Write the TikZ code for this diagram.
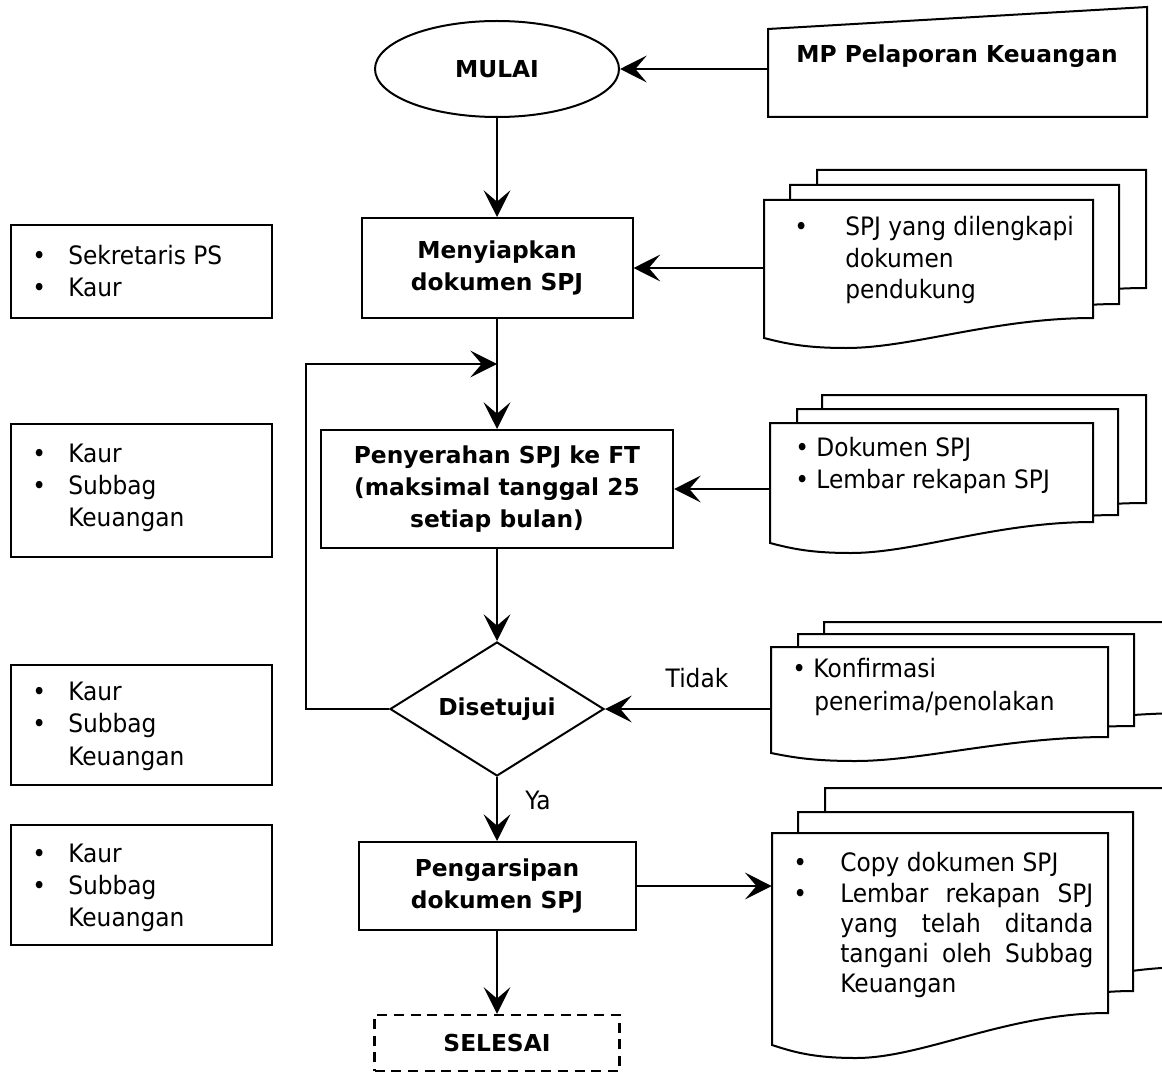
\documentclass[tikz,border=0pt]{standalone}
\usepackage{fontspec}
\setmainfont{DejaVu Sans}
\newfontfamily\regfont{DejaVu Sans}[FakeStretch=0.92]
\usetikzlibrary{arrows.meta,shapes.geometric}
% document sheet: L T R Br Bl m
\newcommand\docsheet[6]{%
  \path[docsh] (#1,#2) -- (#3,#2) -- (#3,#4)
    .. controls ({#3-0.3*(#3-#1)},#4) and ({#1+0.45*(#3-#1)},{#5+#6}) .. ({#1+0.25*(#3-#1)},{#5+#6})
    .. controls ({#1+0.12*(#3-#1)},{#5+#6}) and ({#1+0.06*(#3-#1)},{#5+0.5*#6}) .. (#1,#5) -- cycle;}
\begin{document}
\begin{tikzpicture}[x=0.75pt,y=-0.75pt,
  font=\fontsize{17.5}{24}\selectfont,
  conn/.style={line width=1.7pt},
  arr/.style={conn,-{Stealth[length=20pt,width=20pt,inset=8.5pt]}},
  mainbox/.style={draw,line width=1.5pt,rectangle,inner sep=0pt,align=center,font=\fontsize{17.5}{24}\selectfont\bfseries},
  sidebox/.style={draw,line width=1.5pt,rectangle,inner sep=0pt},
  anchorbox/.style={inner sep=0pt,rectangle},
  txt/.style={inner sep=0pt,anchor=mid west,yshift=-4.5pt,font=\regfont\fontsize{19}{24}\selectfont},
  lbl/.style={inner sep=0pt,font=\regfont\fontsize{19}{24}\selectfont},
  docsh/.style={draw,line width=1.5pt,fill=white},
]
\useasboundingbox (0,0) rectangle (1162,1073);
\clip (0,0) rectangle (1162,1073);

% ---------- main flow ----------
\node[draw,ellipse,line width=1.5pt,inner sep=0pt,minimum width=183pt,minimum height=72pt,font=\fontsize{17.5}{24}\selectfont\bfseries] (mulai) at (497,69) {MULAI};
\node[mainbox,minimum width=203.25pt,minimum height=75pt] (siap) at (497,268) {Menyiapkan\\dokumen SPJ};
\node[mainbox,minimum width=264pt,minimum height=88.5pt] (pen) at (497,489) {Penyerahan SPJ ke FT\\(maksimal tanggal 25\\setiap bulan)};
\node[draw,diamond,line width=1.5pt,inner sep=0pt,shape aspect=1.6,minimum width=160.5pt,minimum height=100.5pt,font=\fontsize{17.5}{24}\selectfont\bfseries] (dis) at (497,709) {Disetujui};
\node[mainbox,minimum width=207.75pt,minimum height=66pt] (ars) at (497,886) {Pengarsipan\\dokumen SPJ};
\node[mainbox,line width=1.7pt,dash pattern=on 7.5pt off 5pt,minimum width=183.75pt,minimum height=42pt] (sel) at (497,1043) {SELESAI};

% ---------- MP Pelaporan Keuangan (manual input) ----------
\path[docsh] (768,29) -- (1147,7) -- (1147,117) -- (768,117) -- cycle;
\node[anchorbox,minimum width=284.25pt,minimum height=82.5pt] (mp) at (957.5,62) {};
\node[inner sep=0pt,font=\fontsize{17.5}{24}\selectfont\bfseries] (mpt) at (957,56) {MP Pelaporan Keuangan};

% ---------- document stacks ----------
% stack 1
\docsheet{817}{170}{1146}{288}{308}{10}
\docsheet{790}{185}{1119}{304}{324}{10}
\docsheet{764}{200}{1093}{318}{338}{10}
\node[anchorbox,minimum width=246.75pt,minimum height=88.5pt] (d1) at (928.5,259) {};
\node[txt] (d1b) at (794,226) {•};
\node[txt] (d1a) at (845,226) {SPJ yang dilengkapi};
\node[txt] (d1c) at (845,258) {dokumen};
\node[txt] (d1d) at (845,289) {pendukung};

% stack 2
\docsheet{822}{395}{1146}{503}{518}{10}
\docsheet{797}{409}{1118}{515}{530}{10}
\docsheet{770}{423}{1093}{522}{543}{10}
\node[anchorbox,minimum width=242.25pt,minimum height=74.25pt] (d2) at (931.5,472.5) {};
\node[txt] (d2a) at (795,447) {• Dokumen SPJ};
\node[txt] (d2b) at (795,479) {• Lembar rekapan SPJ};

% stack 3
\docsheet{824}{622}{1190}{713}{729}{8}
\docsheet{798}{634}{1134}{726}{742}{8}
\docsheet{771}{647}{1108}{737}{753}{8}
\node[anchorbox,minimum width=252.75pt,minimum height=67.5pt] (d3) at (939.5,692) {};
\node[txt] (d3a) at (792,668) {• Konfirmasi};
\node[txt] (d3b) at (814,701) {penerima/penolakan};

% stack 4
\docsheet{825}{788}{1190}{967}{999}{13}
\docsheet{798}{812}{1133}{991}{1023}{13}
\docsheet{772}{833}{1108}{1013}{1045}{13}
\node[anchorbox,minimum width=252pt,minimum height=135pt] (d4) at (940,923) {};
\node[txt] (d4b1) at (793,862) {•};
\node[txt] (d4b2) at (793,893) {•};
\node[txt] (d4a) at (840,862) {Copy dokumen SPJ};
\node[txt] (d4c) at (840,893) {\hbox to 189.75pt{Lembar\hfill rekapan\hfill SPJ}};
\node[txt] (d4d) at (840,923) {\hbox to 189.75pt{yang\hfill telah\hfill ditanda}};
\node[txt] (d4e) at (840,953) {\hbox to 189.75pt{tangani\hfill oleh\hfill Subbag}};
\node[txt] (d4f) at (840,983) {Keuangan};

% ---------- left role boxes ----------
\node[sidebox,minimum width=195.75pt,minimum height=69.75pt] (l1) at (141.5,271.5) {};
\node[txt] (l1b1) at (32,255) {•};
\node[txt] (l1t1) at (68,255) {Sekretaris PS};
\node[txt] (l1b2) at (32,287) {•};
\node[txt] (l1t2) at (68,287) {Kaur};

\node[sidebox,minimum width=195.75pt,minimum height=99.75pt] (l2) at (141.5,490.5) {};
\node[txt] (l2b1) at (32,453) {•};
\node[txt] (l2t1) at (68,453) {Kaur};
\node[txt] (l2b2) at (32,485) {•};
\node[txt] (l2t2) at (68,485) {Subbag};
\node[txt] (l2t3) at (68,517) {Keuangan};

\node[sidebox,minimum width=195.75pt,minimum height=90pt] (l3) at (141.5,725) {};
\node[txt] (l3b1) at (32,691) {•};
\node[txt] (l3t1) at (68,691) {Kaur};
\node[txt] (l3b2) at (32,723) {•};
\node[txt] (l3t2) at (68,723) {Subbag};
\node[txt] (l3t3) at (68,756) {Keuangan};

\node[sidebox,minimum width=195.75pt,minimum height=90pt] (l4) at (141.5,885) {};
\node[txt] (l4b1) at (32,853) {•};
\node[txt] (l4t1) at (68,853) {Kaur};
\node[txt] (l4b2) at (32,885) {•};
\node[txt] (l4t2) at (68,885) {Subbag};
\node[txt] (l4t3) at (68,917) {Keuangan};

% ---------- connectors ----------
\draw[arr] (mp.west |- mulai.east) -- (mulai.east);
\draw[arr] (mulai.south) -- (siap.north);
\draw[arr] (d1.west |- siap.east) -- (siap.east);
\draw[arr] (siap.south) -- (pen.north);
\draw[arr] (d2.west |- pen.east) -- (pen.east);
\draw[arr] (pen.south) -- (dis.north);
\draw[arr] (d3.west |- dis.east) -- (dis.east);
\coordinate (lp) at (306,364);
\coordinate (join) at (497,364);
\draw[arr] (dis.west) -| (lp) -- (join);
\draw[arr] (dis.south) -- (ars.north);
\draw[arr] (ars.east) -- (d4.west |- ars.east);
\draw[arr] (ars.south) -- (sel.north);

\node[lbl] (tidak) at (697,678) {Tidak};
\node[lbl] (ya) at (538,800) {Ya};
\end{tikzpicture}
\end{document}
